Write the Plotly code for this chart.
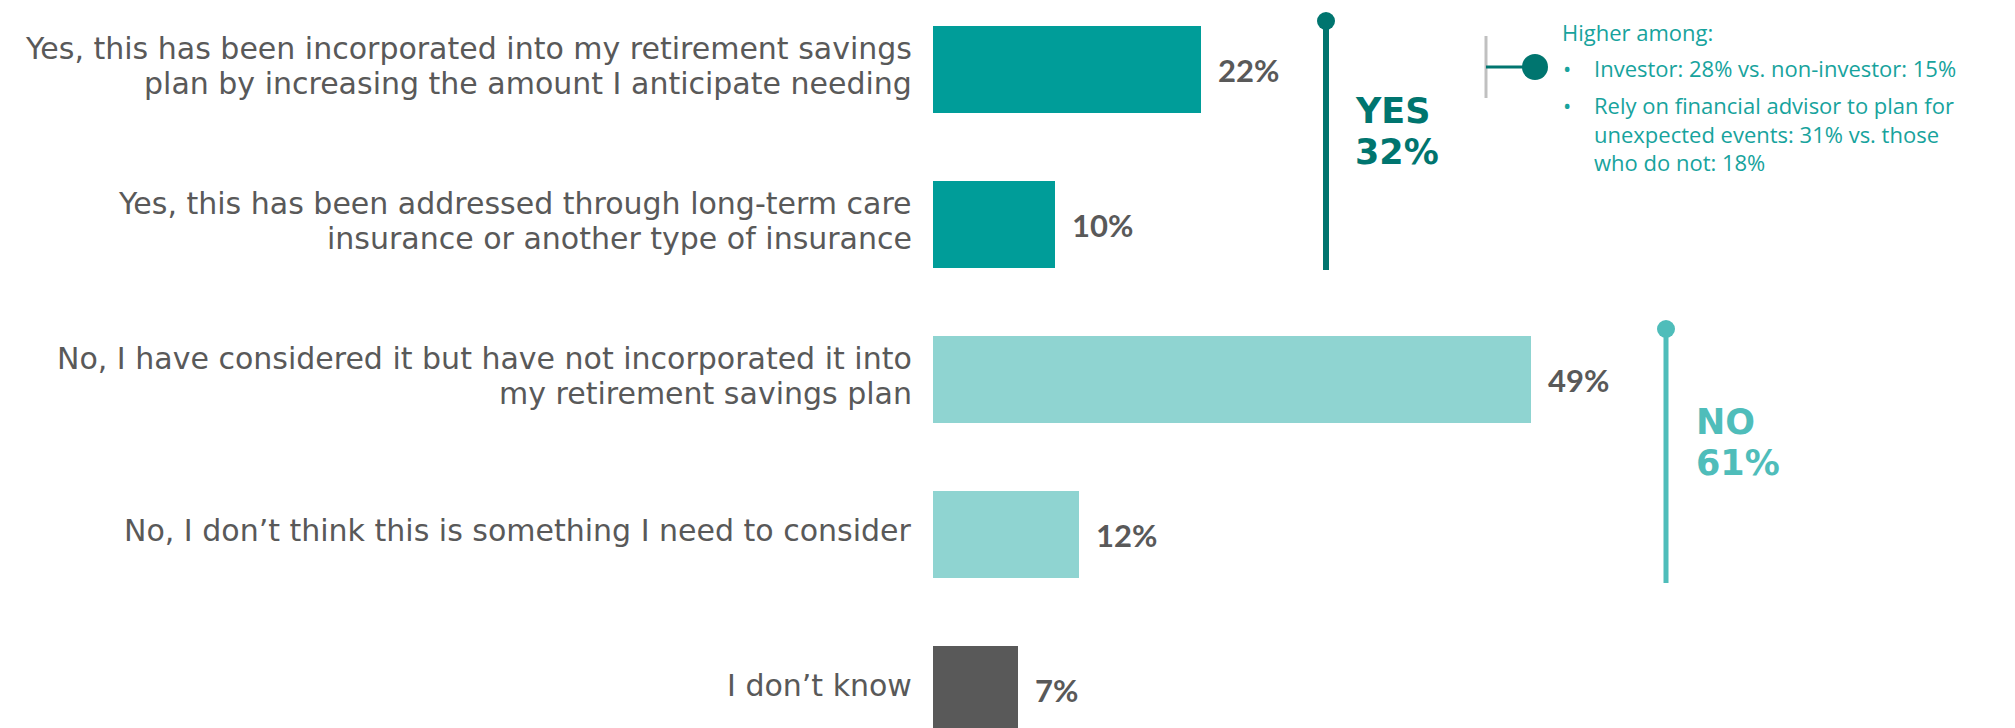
import plotly.graph_objects as go

# ---------------- data ----------------
categories = [
    "Yes, this has been incorporated into my retirement savings<br>plan by increasing the amount I anticipate needing",
    "Yes, this has been addressed through long-term care<br>insurance or another type of insurance",
    "No, I have considered it but have not incorporated it into<br>my retirement savings plan",
    "No, I don’t think this is something I need to consider",
    "I don’t know",
]
values = [22, 10, 49, 12, 7]
value_labels = ["22%", "10%", "49%", "12%", "7%"]
bar_colors = ["#009D99", "#009D99", "#8FD4D1", "#8FD4D1", "#595959"]

yes_label = ["YES", "32%"]
no_label = ["NO", "61%"]
note_title = "Higher among:"
note_bullets = [
    "Investor: 28% vs. non-investor: 15%",
    "Rely on financial advisor to plan for<br>unexpected events: 31% vs. those<br>who do not: 18%",
]

# ---------------- layout geometry ----------------
W, H = 2015, 728
PLOT_LEFT = 933
PX_PER_UNIT_X = 12.2
PX_PER_CAT = 155.0
CAT0_PY = 69.5

x_max = (W - PLOT_LEFT) / PX_PER_UNIT_X
y_top = -CAT0_PY / PX_PER_CAT
y_bot = (H - CAT0_PY) / PX_PER_CAT


def px2x(px):
    return (px - PLOT_LEFT) / PX_PER_UNIT_X


def py2y(py):
    return (py - CAT0_PY) / PX_PER_CAT


GRAY = "#595959"
YES_C = "#00756F"
NO_C = "#4FBDBA"
NOTE_C = "#17A39D"
FONT = "DejaVu Sans"
NOTE_FONT = "Open Sans"
BOLD = "Lato"

ypos = list(range(len(categories)))

fig = go.Figure()
fig.add_trace(go.Bar(
    x=values, y=ypos, orientation="h",
    marker=dict(color=bar_colors, line=dict(width=0)),
    width=0.561, hoverinfo="skip", showlegend=False,
))

# category labels (one annotation per line for tight line spacing)
LINE_H = 35
for cat, yi in zip(categories, ypos):
    lines = cat.split("<br>")
    n = len(lines)
    for k, ln in enumerate(lines):
        off = (k - (n - 1) / 2) * LINE_H
        fig.add_annotation(x=0, y=yi, text=ln, showarrow=False, xanchor="right",
                           yanchor="middle", xshift=-19, yshift=4 - off,
                           font=dict(family=FONT, size=30, color=GRAY))

# value labels
for v, lab, yi in zip(values, value_labels, ypos):
    fig.add_annotation(x=v, y=yi, text=lab, showarrow=False, xanchor="left",
                       yanchor="middle", xshift=15,
                       font=dict(family=BOLD, size=31, color=GRAY, weight="bold"))

shapes = []
# YES bracket line + dot
shapes.append(dict(type="line", xref="x", yref="y", x0=px2x(1326), x1=px2x(1326),
                   y0=py2y(21), y1=py2y(270), line=dict(color=YES_C, width=6)))
shapes.append(dict(type="circle", xref="x", yref="y", x0=px2x(1317), x1=px2x(1335),
                   y0=py2y(12), y1=py2y(30), fillcolor=YES_C, line=dict(width=0)))
# NO bracket line + dot
shapes.append(dict(type="line", xref="x", yref="y", x0=px2x(1666), x1=px2x(1666),
                   y0=py2y(329), y1=py2y(583), line=dict(color=NO_C, width=5)))
shapes.append(dict(type="circle", xref="x", yref="y", x0=px2x(1657), x1=px2x(1675),
                   y0=py2y(320), y1=py2y(338), fillcolor=NO_C, line=dict(width=0)))
# callout connector
shapes.append(dict(type="line", xref="x", yref="y", x0=px2x(1486), x1=px2x(1486),
                   y0=py2y(36), y1=py2y(98), line=dict(color="#C0C0C0", width=3)))
shapes.append(dict(type="line", xref="x", yref="y", x0=px2x(1486), x1=px2x(1530),
                   y0=py2y(67), y1=py2y(67), line=dict(color=YES_C, width=3)))
shapes.append(dict(type="circle", xref="x", yref="y", x0=px2x(1522), x1=px2x(1548),
                   y0=py2y(54), y1=py2y(80), fillcolor=YES_C, line=dict(width=0)))

# YES / NO totals
TOT_FONT = "DejaVu Sans"
TOT_SIZE = 35
for txt, py in zip(yes_label, [111, 152]):
    fig.add_annotation(x=px2x(1353), y=py2y(py), text=txt, showarrow=False,
                       xanchor="left", yanchor="middle",
                       font=dict(family=TOT_FONT, size=TOT_SIZE, color=YES_C, weight="bold"))
for txt, py in zip(no_label, [422, 463]):
    fig.add_annotation(x=px2x(1694), y=py2y(py), text=txt, showarrow=False,
                       xanchor="left", yanchor="middle",
                       font=dict(family=TOT_FONT, size=TOT_SIZE, color=NO_C, weight="bold"))

# note text
NOTE_SIZE = 22
fig.add_annotation(x=px2x(1560), y=py2y(32), text=note_title, showarrow=False,
                   xanchor="left", yanchor="middle",
                   font=dict(family=NOTE_FONT, size=NOTE_SIZE, color=NOTE_C))
bullet_py = [68, 105]
for txt, py in zip(note_bullets, bullet_py):
    fig.add_annotation(x=px2x(1561), y=py2y(py), text="•", showarrow=False,
                       xanchor="left", yanchor="middle",
                       font=dict(family=NOTE_FONT, size=NOTE_SIZE, color=NOTE_C))
    for k, ln in enumerate(txt.split("<br>")):
        fig.add_annotation(x=px2x(1592), y=py2y(py + k * 28.5), text=ln, showarrow=False,
                           xanchor="left", yanchor="middle",
                           font=dict(family=NOTE_FONT, size=NOTE_SIZE, color=NOTE_C))

fig.update_layout(
    width=W, height=H,
    margin=dict(l=PLOT_LEFT, r=0, t=0, b=0, autoexpand=False),
    paper_bgcolor="white", plot_bgcolor="white",
    shapes=shapes,
    bargap=0,
    xaxis=dict(range=[0, x_max], visible=False, fixedrange=True),
    yaxis=dict(range=[y_bot, y_top], tickvals=ypos, showticklabels=False,
               showgrid=False, zeroline=False, showline=False, ticks="",
               fixedrange=True),
)

fig.write_html("out.html", config={"displayModeBar": False},
               post_script="document.body.style.margin='0';document.body.style.overflow='hidden';")
